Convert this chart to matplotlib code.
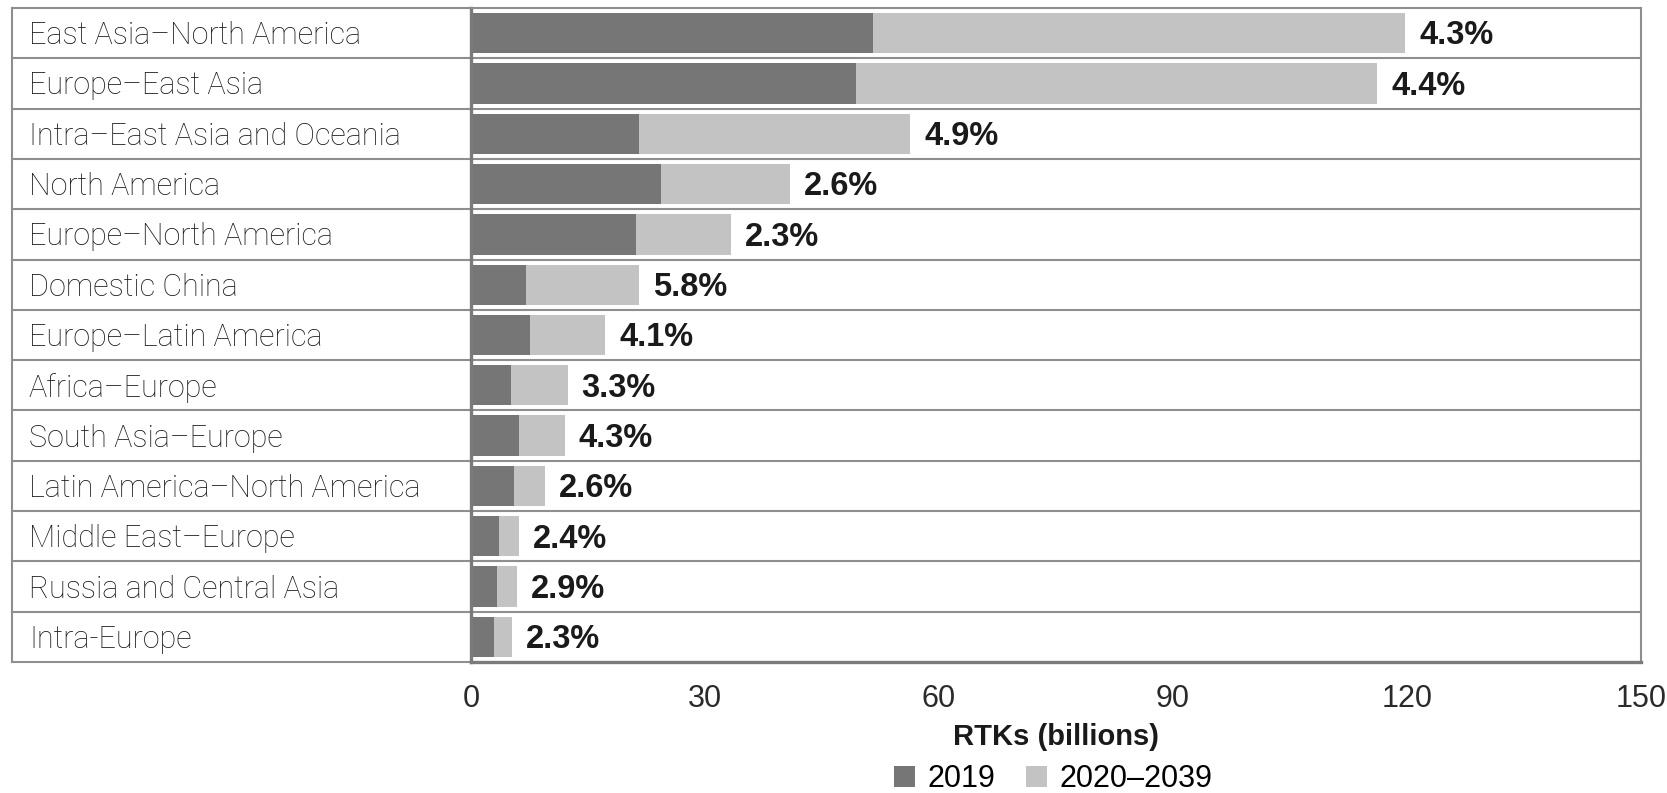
import matplotlib.pyplot as plt
import matplotlib.transforms as mtransforms
import numpy as np

categories = [
    "East Asia\u2013North America",
    "Europe\u2013East Asia",
    "Intra\u2013East Asia and Oceania",
    "North America",
    "Europe\u2013North America",
    "Domestic China",
    "Europe\u2013Latin America",
    "Africa\u2013Europe",
    "South Asia\u2013Europe",
    "Latin America\u2013North America",
    "Middle East\u2013Europe",
    "Russia and Central Asia",
    "Intra-Europe",
]
rtk_2019 = [51.6, 49.3, 21.5, 24.4, 21.2, 7.0, 7.5, 5.1, 6.1, 5.5, 3.6, 3.3, 2.9]
rtk_2020_2039 = [68.2, 66.9, 34.8, 16.5, 12.1, 14.5, 9.7, 7.3, 5.9, 4.0, 2.5, 2.6, 2.3]
growth = ["4.3%", "4.4%", "4.9%", "2.6%", "2.3%", "5.8%", "4.1%",
          "3.3%", "4.3%", "2.6%", "2.4%", "2.9%", "2.3%"]
xticks = [0, 30, 60, 90, 120, 150]

dark = "#767676"
light = "#c3c3c3"
line_grey = "#8e8e8e"
spine_grey = "#7a7a7a"
text_col = "#1a1a1a"
narrow = ["Liberation Sans Narrow", "Liberation Sans"]

W, H = 1667, 793
fig = plt.figure(figsize=(W / 100, H / 100), dpi=100)
x0, x1, y0, y1 = 471, 1641, 662, 8
ax = fig.add_axes([x0 / W, 1 - y0 / H, (x1 - x0) / W, (y0 - y1) / H])

y = np.arange(len(categories))
ax.barh(y, rtk_2019, height=0.8, color=dark, label="2019")
ax.barh(y, rtk_2020_2039, left=rtk_2019, height=0.8, color=light, label="2020\u20132039")

ax.set_xlim(0, 150)
ax.set_ylim(len(categories) - 0.5, -0.5)
ax.set_yticks([])
ax.set_xticks(xticks)
ax.set_xticklabels([str(t) for t in xticks], fontsize=22, color="#2a2a2a", family=narrow)
ax.tick_params(axis="x", length=0, pad=16)
ax.set_xlabel("RTKs (billions)", fontsize=21, fontweight="bold", color=text_col,
              family=narrow, labelpad=6)

for side in ["left", "bottom"]:
    ax.spines[side].set_color(spine_grey)
    ax.spines[side].set_linewidth(2.4)
for side in ["top", "right"]:
    ax.spines[side].set_color(line_grey)
    ax.spines[side].set_linewidth(1.5)

# table-like label column and row separators
trans = mtransforms.blended_transform_factory(ax.transAxes, ax.transData)
left_edge = (12 - x0) / (x1 - x0)
for i in range(len(categories) - 1):
    ax.plot([left_edge, 1], [i + 0.5, i + 0.5], transform=trans, color=line_grey,
            lw=1.5, clip_on=False, zorder=0)
ax.plot([left_edge, 0], [-0.5, -0.5], transform=trans, color=line_grey, lw=1.5, clip_on=False)
ax.plot([left_edge, 0], [len(categories) - 0.5] * 2, transform=trans, color=line_grey,
        lw=1.5, clip_on=False)
ax.plot([left_edge, left_edge], [-0.5, len(categories) - 0.5], transform=trans,
        color=line_grey, lw=1.5, clip_on=False)

label_x = (29 - x0) / (x1 - x0)
for i, cat in enumerate(categories):
    ax.text(label_x, i + 0.05, cat, transform=trans, ha="left", va="center",
            fontsize=22, color=text_col, family=["Roboto", "Liberation Sans"],
            fontweight="light")

for i in range(len(categories)):
    total = rtk_2019[i] + rtk_2020_2039[i]
    ax.annotate(growth[i], (total, i), xytext=(10, -2), textcoords="offset points",
                ha="left", va="center", fontsize=23.5, fontweight="bold",
                color=text_col, family="Liberation Sans")

fig.legend(loc="center", bbox_to_anchor=(1053 / W, 1 - 779 / H), ncol=2, frameon=False,
           handlelength=0.7, handleheight=0.7, handletextpad=0.4,
           columnspacing=1.0, borderpad=0,
           prop={"family": narrow, "size": 22})

fig.savefig("out.png", dpi=100)
